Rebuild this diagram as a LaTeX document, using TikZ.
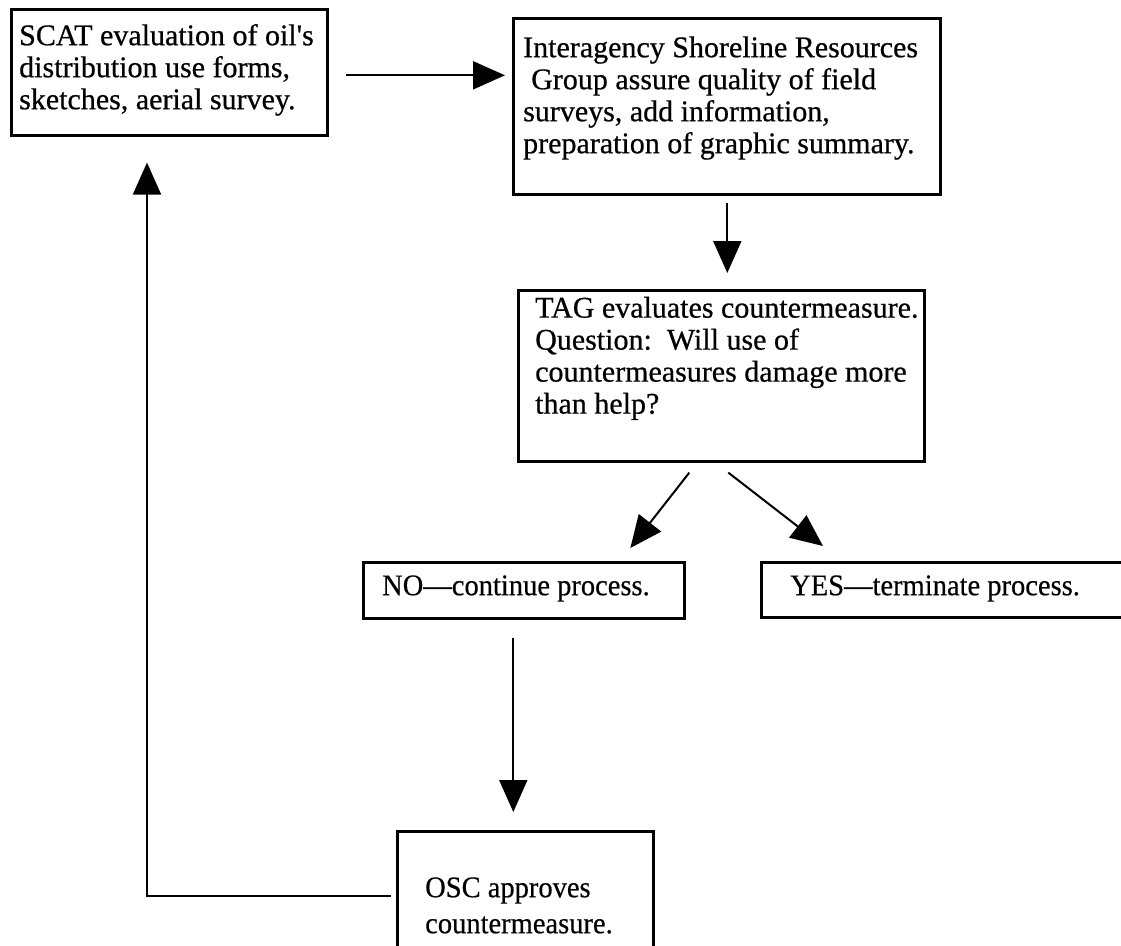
\documentclass[tikz,border=0pt]{standalone}
\usepackage{fontspec}
\setmainfont{Liberation Serif}
\newfontfamily\topfont[FakeBold=0.6]{Liberation Serif}
\newfontfamily\lowfont[FakeStretch=0.95,FakeBold=0.4]{Liberation Serif}
\usetikzlibrary{arrows.meta,calc}
\tikzset{
  box/.style={draw=black, line width=2.6pt, rectangle, inner sep=0pt, anchor=north west},
  toptxt/.style={inner sep=0pt, anchor=north west, align=left, font={\topfont\fontsize{30pt}{32pt}\selectfont}},
  lowtxt/.style={inner sep=0pt, anchor=north west, align=left, font={\lowfont\fontsize{30pt}{30pt}\selectfont}},
  osctxt/.style={inner sep=0pt, anchor=north west, align=left, font={\lowfont\fontsize{30pt}{36pt}\selectfont}},
  arr/.style={draw=black, line width=2pt, -{Triangle[length=32pt,width=28pt]}},
}
\begin{document}
\begin{tikzpicture}[x=1pt,y=-1pt]
\useasboundingbox (0,0) rectangle (1121,945);
\fill[white] (0,0) rectangle (1121,945);
\clip (0,0) rectangle (1121,945);
% boxes
\node[box, minimum width=316pt, minimum height=126pt] (scat) at (10,8) {};
\node[box, minimum width=427pt, minimum height=176pt] (isr) at (512,17) {};
\node[box, minimum width=406pt, minimum height=171pt] (tag) at (517,289) {};
\node[box, minimum width=321pt, minimum height=56pt] (no) at (362,561) {};
\node[box, minimum width=400pt, minimum height=55pt] (yes) at (760,561) {};
\node[box, minimum width=256pt, minimum height=130pt] (osc) at (396,830) {};
% texts
\node[toptxt] (scatt) at (19,22.6) {\strut SCAT evaluation of oil's\\distribution use forms,\\sketches, aerial survey.};
\node[toptxt] (isrt) at (523,34.6) {\strut Interagency Shoreline Resources\\\hspace*{8pt}Group assure quality of field\\surveys, add information,\\preparation of graphic summary.};
\node[toptxt] (tagt) at (535,295) {\strut TAG evaluates countermeasure.\\Question:\ \ Will use of\\countermeasures damage more\\than help?};
\node[lowtxt] (not) at (382,574) {\strut NO—continue process.};
\node[lowtxt] (yest) at (790,574) {\strut YES—terminate process.};
\node[osctxt] (osct) at (425,871.8) {\strut OSC approves\\countermeasure.};
% connectors
\draw[arr] ($(scat.east)+(17,3)$) -- ($(isr.west |- scat.east)+(-7,3)$);
\draw[arr] ($(isr.south)+(0.5,7)$) -- ($(isr.south |- tag.north)+(0.5,-16)$);
\draw[arr] ($(tag.south)+(-32,10)$) -- ($(no.north)+(106.5,-13)$);
\draw[arr] ($(tag.south)+(7,10)$) -- ($(yes.north west)+(63,-15)$);
\draw[arr] ($(no.south)+(-10.5,18)$) -- ($(no.south |- osc.north)+(-10.5,-18)$);
\draw[arr] ($(osc.west)+(-5,0)$) -| ($(scat.south west)+(137,26)$);
\end{tikzpicture}
\end{document}
